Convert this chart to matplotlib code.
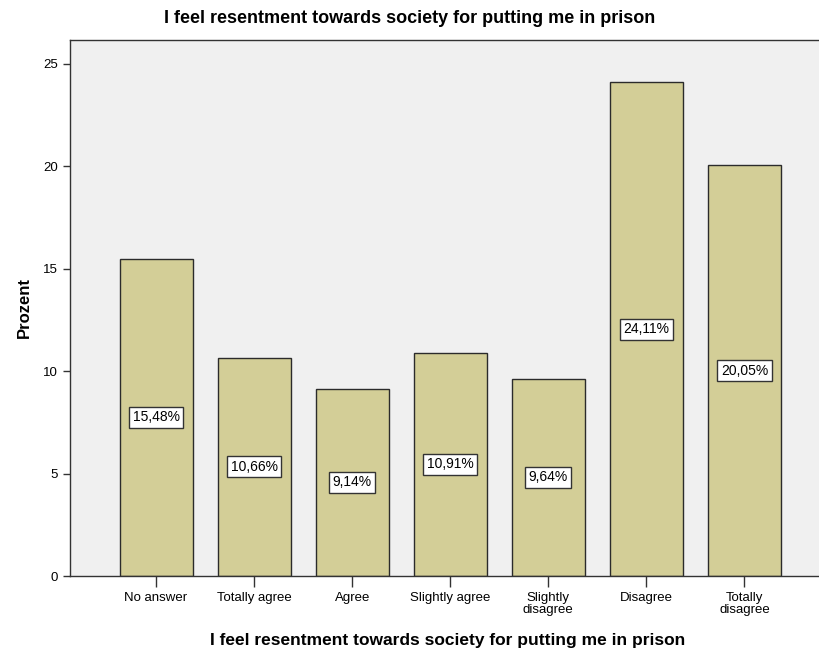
import numpy as np
import matplotlib.pyplot as plt

plt.rcParams['font.family'] = ['Liberation Sans', 'DejaVu Sans']

categories = ['No answer', 'Totally agree', 'Agree', 'Slightly agree',
              'Slightly\ndisagree', 'Disagree', 'Totally\ndisagree']
percent = [15.48, 10.66, 9.14, 10.91, 9.64, 24.11, 20.05]
labels = ['15,48%', '10,66%', '9,14%', '10,91%', '9,64%', '24,11%', '20,05%']
title = 'I feel resentment towards society for putting me in prison'

fig = plt.figure(figsize=(8.2, 6.55), dpi=100)
ax = fig.add_axes([0.0854, 0.1206, 0.9146, 0.8184])
ax.set_facecolor('#f0f0f0')

x = np.arange(len(categories))
ax.bar(x, percent, width=0.745, color='#d3ce97', edgecolor='#2b2b2b', linewidth=1.0, zorder=2)

for xi, v, lab in zip(x, percent, labels):
    ax.text(xi, v / 2, lab, ha='center', va='center', fontsize=10, zorder=3,
            bbox=dict(boxstyle='square,pad=0.25', fc='white', ec='#333333', lw=1.0))

ax.set_xlim(-0.877, 6.77)
ax.set_ylim(0, 26.17)
ax.set_yticks([0, 5, 10, 15, 20, 25])
ax.set_xticks(x)
ax.set_xticklabels(categories, fontsize=9.5, linespacing=1.0)
ax.tick_params(axis='y', labelsize=9.5, length=5, width=1, color='#333333')
ax.tick_params(axis='x', length=8, width=1, color='#333333')

for s in ax.spines.values():
    s.set_color('#333333')
    s.set_linewidth(1.0)

ax.set_ylabel('Prozent', fontsize=12, fontweight='bold', labelpad=8)
fig.text(0.546, 1 - 640 / 655, title, ha='center', va='center', fontsize=12.5, fontweight='bold')
fig.text(0.5, 0.972, title, ha='center', va='center', fontsize=13, fontweight='bold')

plt.savefig('out.png')
